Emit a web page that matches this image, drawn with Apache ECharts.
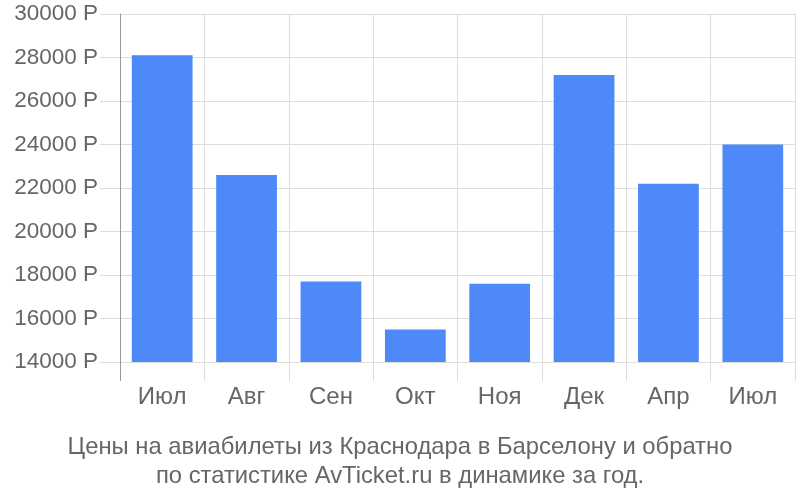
<!DOCTYPE html>
<html><head><meta charset="utf-8">
<script src="https://cdn.jsdelivr.net/npm/echarts@6/dist/echarts.min.js"></script>
<style>html,body{margin:0;padding:0;background:#fff}#c{width:800px;height:500px}</style>
</head><body><div id="c"></div>
<script>
const categories = ['Июл', 'Авг', 'Сен', 'Окт', 'Ноя', 'Дек', 'Апр', 'Июл'];
const prices = [28100, 22600, 17700, 15500, 17600, 27200, 22200, 24000];
const titleLines = ['Цены на авиабилеты из Краснодара в Барселону и обратно', 'по статистике AvTicket.ru в динамике за год.'];
const yMin = 14000, yMax = 30000, yStep = 2000;

const font = 'Liberation Sans, Arial, sans-serif';
const chart = echarts.init(document.getElementById('c'));
chart.setOption({
  animation: false,
  textStyle: { fontFamily: font },
  title: {
    text: titleLines.join('\n'), left: 'center', top: 428,
    textStyle: { color: '#666', fontSize: 23.8, fontWeight: 'normal', lineHeight: 29, fontFamily: font }
  },
  grid: { left: 120, right: 5, top: 14, bottom: 138 },
  xAxis: {
    type: 'category', data: categories,
    axisLine: { show: false },
    axisTick: { show: true, alignWithLabel: false, length: 19, lineStyle: { color: '#ddd' } },
    splitLine: { show: true, lineStyle: { color: '#ddd' } },
    axisLabel: { color: '#666', fontSize: 24, margin: 23 }
  },
  yAxis: {
    type: 'value', min: yMin, max: yMax, interval: yStep,
    axisLine: { show: true, lineStyle: { color: '#999' } },
    axisTick: { show: true, length: 20, lineStyle: { color: '#ddd' } },
    splitLine: { show: true, lineStyle: { color: '#ddd' } },
    axisLabel: { color: '#666', fontSize: 22.5, margin: 22, formatter: v => v + ' Р' }
  },
  series: [{
    type: 'bar', data: prices, barCategoryGap: '28%',
    itemStyle: { color: '#4d89f9' }
  }]
});
// extend the y axis line down along the first category tick
const rect = chart.getModel().getComponent('grid').coordinateSystem.getRect();
chart.setOption({
  graphic: [{
    type: 'line', silent: true, z: 100,
    shape: { x1: rect.x + 0.5, y1: rect.y + rect.height, x2: rect.x + 0.5, y2: rect.y + rect.height + 19 },
    style: { stroke: '#999', lineWidth: 1 }
  }]
});
</script></body></html>
